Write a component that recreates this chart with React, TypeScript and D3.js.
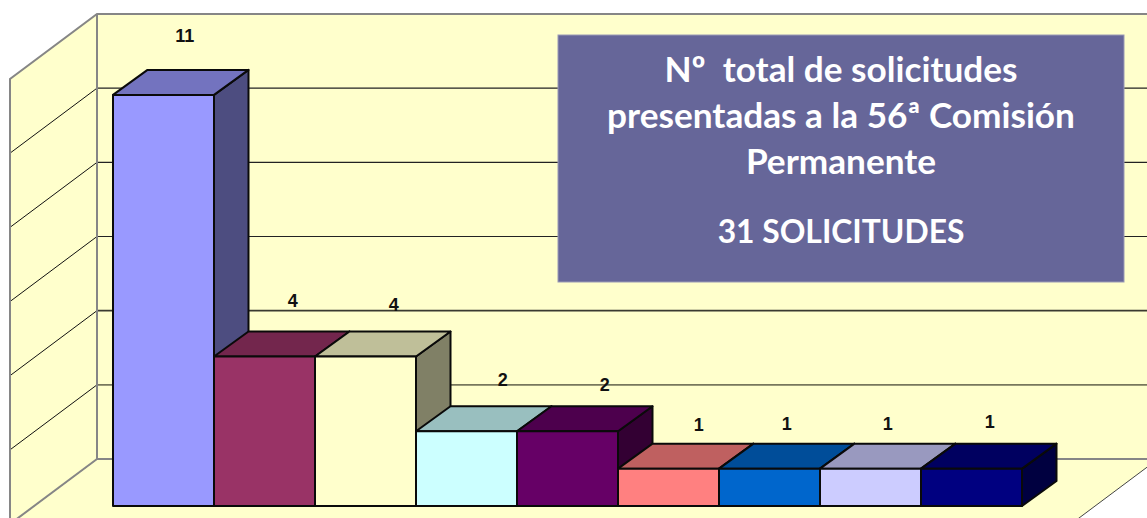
import React from 'react';
import * as d3 from 'd3';

const categories = ['c1', 'c2', 'c3', 'c4', 'c5', 'c6', 'c7', 'c8', 'c9'];
const values = [11, 4, 4, 2, 2, 1, 1, 1, 1];
const barColors = ['#9999FF', '#993366', '#FFFFCC', '#CCFFFF', '#660066', '#FF8080', '#0066CC', '#CCCCFF', '#000080'];
const gridTicks = [2, 4, 6, 8, 10];
const titleLines = ['Nº  total de solicitudes', 'presentadas a la 56ª Comisión', 'Permanente'];
const totalLine = '31 SOLICITUDES';

// the value labels sit a bit off-centre in the picture
const labelDx = [4, 11, 11, 19, 20, 13, 0, 0, 1];
const labelDy = [-28, -25, -21, -20, -15, -13, -14, -14, -16];

const W = 1147;
const H = 518;
const wallX = 97;
const wallTop = 14;
const wallBottom = 459;
const wallDepth = { x: 87, y: 65 };
const barDepth = { x: 34.5, y: 25 };
const barBase = 506;
const floorRight = 1158;

const shade = (c: string, k: number) => {
  const r = d3.rgb(c);
  return d3.rgb(r.r * k, r.g * k, r.b * k).formatHex();
};
const poly = d3.line();

export default function App() {
  const x = d3.scaleBand().domain(categories).range([113, 1022]).padding(0);
  const yWall = d3.scaleLinear().domain([0, 12]).range([wallBottom, wallTop]);
  const yBar = d3.scaleLinear().domain([0, 12]).range([barBase, barBase - 448.5]);
  const bw = x.bandwidth();

  return (
    <svg width={W} height={H} style={{ position: 'absolute', left: 0, top: 0, background: '#fff' }}>
      {/* walls and floor */}
      <path
        d={poly([[wallX, wallTop], [W + 2, wallTop], [W + 2, wallBottom], [wallX, wallBottom]])! + 'Z'}
        fill="#FFFFCC"
      />
      <path
        d={poly([[10, wallBottom + wallDepth.y], [floorRight - wallDepth.x, wallBottom + wallDepth.y], [floorRight, wallBottom], [wallX, wallBottom]])! + 'Z'}
        fill="#FFFFCC"
        stroke="#444"
        strokeWidth={1}
      />
      <path
        d={poly([[wallX - wallDepth.x, wallTop + wallDepth.y], [wallX, wallTop], [wallX, wallBottom], [wallX - wallDepth.x, wallBottom + wallDepth.y]])! + 'Z'}
        fill="#FFFFCC"
      />

      {/* grid */}
      {gridTicks.map(t => (
        <line
          key={t}
          x1={wallX}
          x2={W}
          y1={yWall(t)}
          y2={yWall(t)}
          stroke={t === 2 ? '#77775c' : t === 4 ? '#3a3a30' : '#222'}
          strokeWidth={t <= 4 ? 1.8 : 1.2}
        />
      ))}
      {gridTicks.map(t => (
        <line key={t} x1={wallX - wallDepth.x} x2={wallX} y1={yWall(t) + wallDepth.y} y2={yWall(t)} stroke="#111" strokeWidth={1} />
      ))}
      <g fill="none" stroke="#868686" strokeWidth={2}>
        <path d={poly([[W, wallTop], [wallX, wallTop], [wallX - wallDepth.x, wallTop + wallDepth.y], [wallX - wallDepth.x, H]])!} />
        <line x1={wallX} x2={wallX} y1={wallTop} y2={wallBottom} />
        <line x1={wallX} x2={W} y1={wallBottom} y2={wallBottom} />
        <line x1={wallX} x2={wallX - wallDepth.x} y1={wallBottom} y2={wallBottom + wallDepth.y} />
      </g>

      {/* bars, left to right so each front hides the previous side */}
      {categories.map((c, i) => {
        const x0 = x(c)!;
        const x1 = x0 + bw;
        const yTop = yBar(values[i]);
        return (
          <g key={c} stroke="#0a0a0a" strokeWidth={2} strokeLinejoin="round">
            <path
              fill={shade(barColors[i], 0.5)}
              d={poly([[x1, yTop], [x1 + barDepth.x, yTop - barDepth.y], [x1 + barDepth.x, barBase - barDepth.y], [x1, barBase]])! + 'Z'}
            />
            <path
              fill={shade(barColors[i], 0.75)}
              d={poly([[x0, yTop], [x0 + barDepth.x, yTop - barDepth.y], [x1 + barDepth.x, yTop - barDepth.y], [x1, yTop]])! + 'Z'}
            />
            <rect x={x0} y={yTop} width={bw} height={barBase - yTop} fill={barColors[i]} />
          </g>
        );
      })}
      {categories.map((c, i) => (
        <text
          key={c}
          x={x(c)! + bw / 2 + barDepth.x / 2 + labelDx[i]}
          y={yBar(values[i]) - barDepth.y + labelDy[i]}
          textAnchor="middle"
          fontFamily="'Liberation Sans', Arial, sans-serif"
          fontWeight="bold"
          fontSize={18}
          fill="#111"
        >
          {values[i]}
        </text>
      ))}

      {/* total box */}
      <rect x={558} y={35} width={566} height={247} fill="#666699" stroke="#9a9ab5" strokeWidth={1} />
      <g fontFamily="Lato, 'Open Sans', sans-serif" fontWeight="bold" fill="#fff" textAnchor="middle">
        {titleLines.map((line, i) => (
          <text key={line} x={841} y={82 + i * 46} fontSize={35.2} xmlSpace="preserve">{line}</text>
        ))}
        <text x={841} y={243} fontSize={31.8}>{totalLine}</text>
      </g>
    </svg>
  );
}
